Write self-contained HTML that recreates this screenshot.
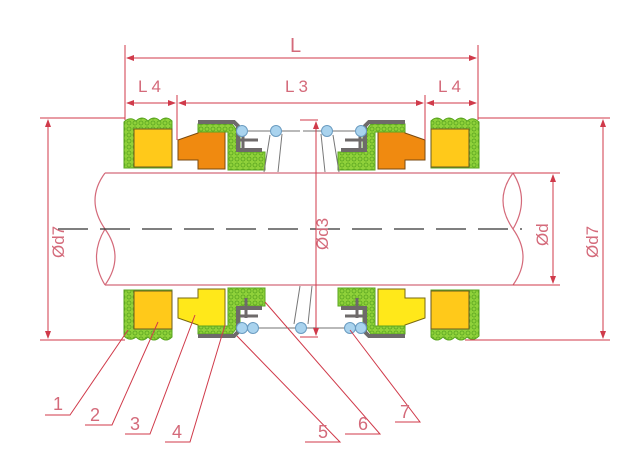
<!DOCTYPE html>
<html><head><meta charset="utf-8"><style>
html,body{margin:0;padding:0;background:#fff;}
svg{display:block;}
text{font-family:"Liberation Sans",sans-serif;fill:#d46a7a;}
</style></head><body>
<svg width="630" height="474" viewBox="0 0 630 474" xmlns="http://www.w3.org/2000/svg">
<defs>
<pattern id="g" width="6" height="6" patternUnits="userSpaceOnUse">
<rect width="6" height="6" fill="#8fd13a"/>
<circle cx="3" cy="3" r="2" fill="none" stroke="#5aa520" stroke-width="0.8"/>
</pattern>
<marker id="a" markerWidth="8" markerHeight="6" refX="7" refY="3" orient="auto-start-reverse" markerUnits="userSpaceOnUse">
<path d="M0,0 L8,3 L0,6 z" fill="#d03a4a"/></marker>
</defs>

<!-- shaft -->
<path d="M105,173 L513,173 M105,285 L513,285" stroke="#d46a7a" stroke-width="1.2" fill="none"/>
<path d="M105,173 Q85,200 105,229 Q125,257 105,285 M105,229 Q88,257 105,285" stroke="#d46a7a" stroke-width="1.2" fill="none"/>
<path d="M513,173 Q493,200 513,229 Q533,257 513,285 M513,173 Q530,200 513,229" stroke="#d46a7a" stroke-width="1.2" fill="none"/>
<line x1="58" y1="229" x2="522" y2="229" stroke="#333" stroke-width="1.2" stroke-dasharray="30,12"/>

<!-- top components -->
<g id="tl">
<path d="M124,168 L124,122 Q130,116 136,121 Q142,115 148,121 Q154,115 160,121 Q166,115 172,121 L172,168 Z" fill="url(#g)" stroke="#5aa520"/>
<rect x="134" y="129" width="38" height="38" fill="#ffc91a" stroke="#6a5a20"/>
<path d="M178,140 L198,133 L198,125 L225,125 L225,169 L198,169 L198,160 L178,160 Z" fill="#f08a10" stroke="#7a4a10"/>
<path d="M198,124 L232,124 L240,134 L240,152 L265,152 L265,170 L228,170 L228,132 L198,132 Z" fill="url(#g)" stroke="#5aa520"/>
<path d="M198,122 L234,122 L238,126 L238,150 L262,150" fill="none" stroke="#6e6a6a" stroke-width="4"/>
<path d="M243,136 L243,150 M238,140 L258,140" fill="none" stroke="#6e6a6a" stroke-width="3"/>
<line x1="248" y1="131" x2="300" y2="131" stroke="#444" stroke-width="0.8"/>
<path d="M270,135 L264,172 M282,134 L278,172" stroke="#777" fill="none"/>
<circle cx="242" cy="131" r="5.5" fill="#a9d3ee" stroke="#6a9bc0"/>
<circle cx="276" cy="131" r="5.5" fill="#a9d3ee" stroke="#6a9bc0"/>
</g>
<use href="#tl" transform="translate(603,0) scale(-1,1)"/>

<!-- bottom components -->
<g id="bl">
<path d="M124,290 L124,336 Q130,342 136,337 Q142,343 148,337 Q154,343 160,337 Q166,343 172,337 L172,290 Z" fill="url(#g)" stroke="#5aa520"/>
<rect x="134" y="291" width="38" height="38" fill="#ffc91a" stroke="#6a5a20"/>
<path d="M178,318 L198,325 L198,333 L225,333 L225,289 L198,289 L198,298 L178,298 Z" fill="#ffe81a" stroke="#7a6a10"/>
<path d="M198,334 L232,334 L240,324 L240,306 L265,306 L265,288 L228,288 L228,326 L198,326 Z" fill="url(#g)" stroke="#5aa520"/>
<path d="M198,336 L234,336 L238,332 L238,308 L262,308" fill="none" stroke="#6e6a6a" stroke-width="4"/>
<path d="M246,298 L246,318 M240,316 L258,316" fill="none" stroke="#6e6a6a" stroke-width="3"/>
<line x1="246" y1="328" x2="316" y2="328" stroke="#444" stroke-width="0.8"/>
<path d="M294,324 L300,286 M308,324 L312,286" stroke="#777" fill="none"/>
<circle cx="242" cy="328" r="5.5" fill="#a9d3ee" stroke="#6a9bc0"/>
<circle cx="253" cy="328" r="5.5" fill="#a9d3ee" stroke="#6a9bc0"/>
<circle cx="301" cy="328" r="5.5" fill="#a9d3ee" stroke="#6a9bc0"/>
</g>
<g transform="translate(603,0) scale(-1,1)">
<path d="M124,290 L124,336 Q130,342 136,337 Q142,343 148,337 Q154,343 160,337 Q166,343 172,337 L172,290 Z" fill="url(#g)" stroke="#5aa520"/>
<rect x="134" y="291" width="38" height="38" fill="#ffc91a" stroke="#6a5a20"/>
<path d="M178,318 L198,325 L198,333 L225,333 L225,289 L198,289 L198,298 L178,298 Z" fill="#ffe81a" stroke="#7a6a10"/>
<path d="M198,334 L232,334 L240,324 L240,306 L265,306 L265,288 L228,288 L228,326 L198,326 Z" fill="url(#g)" stroke="#5aa520"/>
<path d="M198,336 L234,336 L238,332 L238,308 L262,308" fill="none" stroke="#6e6a6a" stroke-width="4"/>
<path d="M246,298 L246,318 M240,316 L258,316" fill="none" stroke="#6e6a6a" stroke-width="3"/>
<line x1="246" y1="328" x2="290" y2="328" stroke="#444" stroke-width="0.8"/>
<circle cx="242" cy="328" r="5.5" fill="#a9d3ee" stroke="#6a9bc0"/>
<circle cx="253" cy="328" r="5.5" fill="#a9d3ee" stroke="#6a9bc0"/>
</g>

<!-- dimensions -->
<g stroke="#d03a4a" stroke-width="1" fill="none">
<line x1="125" y1="45" x2="125" y2="120"/>
<line x1="478" y1="45" x2="478" y2="120"/>
<line x1="177" y1="95" x2="177" y2="140"/>
<line x1="425" y1="95" x2="425" y2="140"/>
<line x1="127" y1="58" x2="476" y2="58" marker-start="url(#a)" marker-end="url(#a)"/>
<line x1="127" y1="103" x2="175" y2="103" marker-start="url(#a)" marker-end="url(#a)"/>
<line x1="179" y1="103" x2="423" y2="103" marker-start="url(#a)" marker-end="url(#a)"/>
<line x1="427" y1="103" x2="476" y2="103" marker-start="url(#a)" marker-end="url(#a)"/>
<line x1="40" y1="118" x2="125" y2="118"/>
<line x1="40" y1="340" x2="125" y2="340"/>
<line x1="48" y1="120" x2="48" y2="338" marker-start="url(#a)" marker-end="url(#a)"/>
<line x1="478" y1="118" x2="610" y2="118"/>
<line x1="465" y1="340" x2="610" y2="340"/>
<line x1="603" y1="120" x2="603" y2="338" marker-start="url(#a)" marker-end="url(#a)"/>
<line x1="513" y1="173" x2="560" y2="173"/>
<line x1="513" y1="285" x2="560" y2="285"/>
<line x1="553" y1="175" x2="553" y2="283" marker-start="url(#a)" marker-end="url(#a)"/>
<line x1="300" y1="120" x2="318" y2="120"/>
<line x1="300" y1="337" x2="318" y2="337"/>
<line x1="316" y1="122" x2="316" y2="335" marker-start="url(#a)" marker-end="url(#a)"/>
</g>
<text x="290" y="52" font-size="20">L</text>
<text x="138" y="92" font-size="17">L 4</text>
<text x="285" y="92" font-size="17">L 3</text>
<text x="438" y="92" font-size="17">L 4</text>
<text font-size="17" transform="translate(64,258) rotate(-90)">Ød7</text>
<text font-size="17" transform="translate(598,258) rotate(-90)">Ød7</text>
<text font-size="17" transform="translate(548,246) rotate(-90)">Ød</text>
<text font-size="17" transform="translate(328,250) rotate(-90)">Ød3</text>

<!-- leaders -->
<g stroke="#d03a4a" stroke-width="1" fill="none">
<path d="M45,415 L70,415 L128,330"/>
<path d="M85,425 L112,425 L158,322"/>
<path d="M125,434 L150,434 L195,315"/>
<path d="M165,442 L190,442 L225,325"/>
<path d="M305,442 L340,442 L237,336"/>
<path d="M345,434 L380,434 L265,302"/>
<path d="M395,422 L420,422 L350,330"/>
</g>
<g font-size="18">
<text x="53" y="410">1</text>
<text x="90" y="421">2</text>
<text x="130" y="430">3</text>
<text x="172" y="438">4</text>
<text x="318" y="438">5</text>
<text x="358" y="430">6</text>
<text x="400" y="418">7</text>
</g>
</svg>
</body></html>
